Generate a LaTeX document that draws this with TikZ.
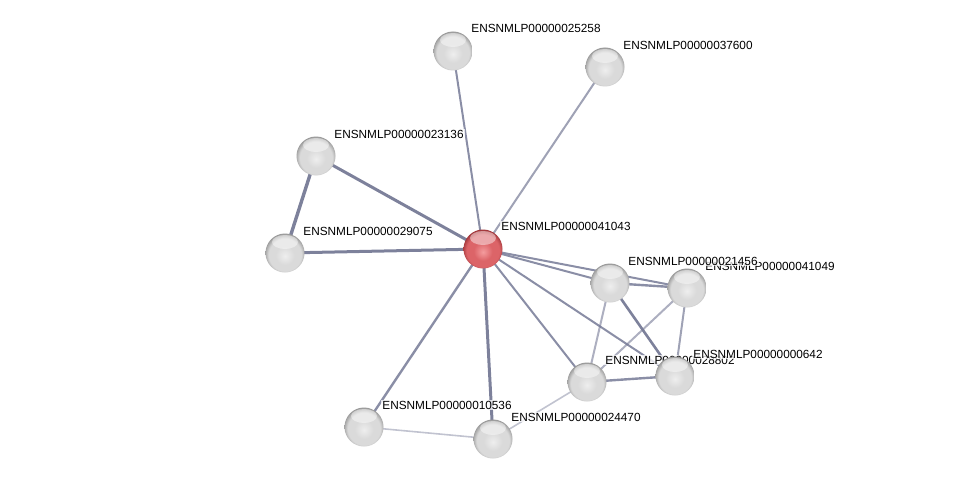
\documentclass[tikz,border=0pt]{standalone}
\usepackage{fontspec}
\setmainfont{Liberation Sans}
\usetikzlibrary{positioning, calc}
\definecolor{linkgray}{RGB}{118,122,150}
\definecolor{balllight}{RGB}{238,238,238}
\definecolor{ballmid}{RGB}{218,218,218}
\definecolor{ballrim}{RGB}{150,150,150}
\definecolor{hublight}{RGB}{244,156,158}
\definecolor{hubmid}{RGB}{220,100,104}
\definecolor{hubrim}{RGB}{158,52,56}
\pgfdeclareradialshading{protball}{\pgfpoint{0bp}{-4bp}}{%
  color(0bp)=(balllight); color(12bp)=(ballmid); color(21bp)=(ballmid);
  color(27bp)=(ballrim); color(29bp)=(ballrim); color(50bp)=(ballrim)}
\pgfdeclareradialshading{hubball}{\pgfpoint{0bp}{-4bp}}{%
  color(0bp)=(hublight); color(12bp)=(hubmid); color(21bp)=(hubmid);
  color(27bp)=(hubrim); color(29bp)=(hubrim); color(50bp)=(hubrim)}
\tikzset{
  % Network nodes
  protnode/.style  = { circle, minimum size=39pt, inner sep=0,
                        shading=protball,
                        path picture = {
                          \fill[white, opacity=0.45]
                            ([yshift=-8.5pt]path picture bounding box.north)
                            ellipse [x radius=13pt, y radius=7pt];
                        } },
  hubnode/.style   = { protnode, shading=hubball },
  protlabel/.style = { anchor=west, font=\fontsize{11.8}{14}\selectfont,
                        fill=white, fill opacity=0.75, text opacity=1,
                        inner sep=1.2pt },
  % Edges
  link/.style       = { draw=linkgray, line width=2pt, draw opacity=0.85 },
  stronglink/.style = { link, line width=3pt, draw opacity=0.95 },
  weaklink/.style   = { link, line width=1.6pt, draw opacity=0.45 }
}

\begin{document}
\begin{tikzpicture}[x=1pt, y=-1pt]
  \useasboundingbox (0,0) rectangle (976,484);

  % --- Node centres (pixel grid of the reference) ---------------------
  \coordinate (pA) at (483,249);
  \coordinate (pB) at (453,51);
  \coordinate (pC) at (605,67);
  \coordinate (pD) at (316,156);
  \coordinate (pE) at (285,253);
  \coordinate (pF) at (610,283);
  \coordinate (pG) at (687,288);
  \coordinate (pH) at (587,382);
  \coordinate (pI) at (675,376);
  \coordinate (pJ) at (364,427);
  \coordinate (pK) at (493,439);

  % --- Edges -----------------------------------------------------------
  \draw[weaklink]   (pJ) -- (pK);
  \draw[weaklink]   (pH) -- (pK);
  \draw[link]       (pA) -- (pB);
  \draw[link, draw opacity=0.7] (pA) -- (pC);
  \draw[stronglink] (pA) -- (pD);
  \draw[stronglink] (pA) -- (pE);
  \draw[stronglink, line width=3.4pt] (pD) -- (pE);
  \draw[link]       (pA) -- (pF);
  \draw[link]       (pA) -- (pG);
  \draw[link]       (pA) -- (pH);
  \draw[link]       (pA) -- (pI);
  \draw[link, line width=2.4pt] (pA) -- (pJ);
  \draw[stronglink] (pA) -- (pK);
  \draw[link, line width=2.4pt] (pF) -- (pG);
  \draw[link, draw opacity=0.6] (pF) -- (pH);
  \draw[stronglink, line width=2.6pt] (pF) -- (pI);
  \draw[link, draw opacity=0.6] (pG) -- (pH);
  \draw[link, draw opacity=0.7] (pG) -- (pI);
  \draw[link, line width=2.4pt] (pH) -- (pI);

  % --- Proteins with their labels (order keeps the overlaps) ----------
  \node[protnode] (B) at (pB) {};
  \node[protlabel] (lB) at ($(B.center)+(17,-23)$) {ENSNMLP00000025258};
  \node[protnode] (C) at (pC) {};
  \node[protlabel] (lC) at ($(C.center)+(17,-22)$) {ENSNMLP00000037600};
  \node[protnode] (D) at (pD) {};
  \node[protlabel] (lD) at ($(D.center)+(17,-22)$) {ENSNMLP00000023136};
  \node[protnode] (E) at (pE) {};
  \node[protlabel] (lE) at ($(E.center)+(17,-22)$) {ENSNMLP00000029075};
  \node[protnode] (J) at (pJ) {};
  \node[protlabel] (lJ) at ($(J.center)+(17,-22)$) {ENSNMLP00000010536};
  \node[protnode] (K) at (pK) {};
  \node[protlabel] (lK) at ($(K.center)+(17,-22)$) {ENSNMLP00000024470};
  \node[protnode] (G) at (pG) {};
  \node[protlabel] (lG) at ($(G.center)+(17,-22)$) {ENSNMLP00000041049};
  \node[protnode] (F) at (pF) {};
  \node[protlabel] (lF) at ($(F.center)+(17,-22)$) {ENSNMLP00000021456};
  \node[protnode] (H) at (pH) {};
  \node[protlabel] (lH) at ($(H.center)+(17,-22)$) {ENSNMLP00000028802};
  \node[protnode] (I) at (pI) {};
  \node[protlabel] (lI) at ($(I.center)+(17,-22)$) {ENSNMLP00000000642};
  \node[hubnode] (A) at (pA) {};
  \node[protlabel] (lA) at ($(A.center)+(17,-23)$) {ENSNMLP00000041043};

\end{tikzpicture}
\end{document}
